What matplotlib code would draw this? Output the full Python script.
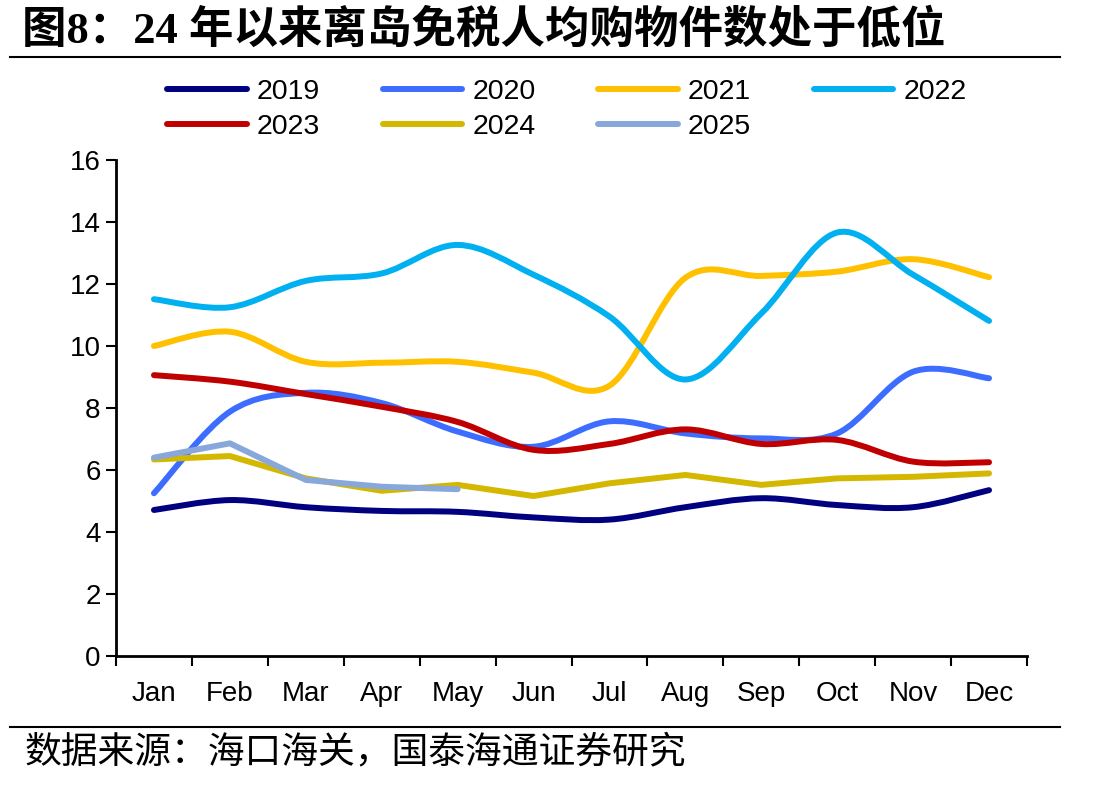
import numpy as np
import matplotlib
matplotlib.use("Agg")
import matplotlib.pyplot as plt
from matplotlib.path import Path
from matplotlib.patches import PathPatch
from matplotlib.lines import Line2D

months = ["Jan", "Feb", "Mar", "Apr", "May", "Jun", "Jul", "Aug", "Sep", "Oct", "Nov", "Dec"]
y2019 = [4.71, 5.03, 4.80, 4.68, 4.65, 4.47, 4.40, 4.80, 5.09, 4.87, 4.80, 5.35]
y2020 = [5.25, 7.88, 8.49, 8.16, 7.24, 6.75, 7.57, 7.18, 7.02, 7.18, 9.17, 8.96]
y2021 = [10.00, 10.46, 9.49, 9.46, 9.49, 9.14, 8.72, 12.20, 12.26, 12.40, 12.80, 12.22]
y2022 = [11.51, 11.25, 12.10, 12.34, 13.26, 12.30, 10.95, 8.92, 11.05, 13.66, 12.30, 10.81]
y2023 = [9.06, 8.85, 8.45, 8.04, 7.55, 6.65, 6.84, 7.31, 6.84, 6.97, 6.27, 6.25]
y2024 = [6.34, 6.45, 5.73, 5.33, 5.52, 5.16, 5.57, 5.84, 5.52, 5.73, 5.78, 5.89]
y2025 = [6.40, 6.86, 5.68, 5.46, 5.38]
years = ["2019", "2020", "2021", "2022", "2023", "2024", "2025"]

colors = {"2019": "#000080", "2020": "#3D6DFF", "2021": "#FFC000", "2022": "#00B0F0",
          "2023": "#C00000", "2024": "#D4B800", "2025": "#88A8DC"}
series = {"2019": y2019, "2020": y2020, "2021": y2021, "2022": y2022,
          "2023": y2023, "2024": y2024, "2025": y2025}
smooth = {"2019": True, "2020": True, "2021": True, "2022": True,
          "2023": True, "2024": False, "2025": False}

plt.rcParams['font.family'] = ['Liberation Sans', 'Noto Sans CJK SC']

fig = plt.figure(figsize=(11.07, 7.87), dpi=100)
ax = fig.add_axes([116/1107, 1-656/787, (1027-116)/1107, (656-160)/787])

LW = 4.3


def smooth_path(xs, ys):
    n = len(xs)
    verts = [(xs[0], ys[0])]
    codes = [Path.MOVETO]
    for i in range(n - 1):
        p0 = (xs[max(i-1, 0)], ys[max(i-1, 0)])
        p1 = (xs[i], ys[i])
        p2 = (xs[i+1], ys[i+1])
        p3 = (xs[min(i+2, n-1)], ys[min(i+2, n-1)])
        c1 = (p1[0] + (p2[0]-p0[0])/6, p1[1] + (p2[1]-p0[1])/6)
        c2 = (p2[0] - (p3[0]-p1[0])/6, p2[1] - (p3[1]-p1[1])/6)
        verts += [c1, c2, p2]
        codes += [Path.CURVE4]*3
    return Path(verts, codes)


handles = {}
for yr in years:
    vals = series[yr]
    xs = np.arange(len(vals))
    if smooth[yr]:
        patch = PathPatch(smooth_path(list(xs), list(vals)), facecolor='none',
                          edgecolor=colors[yr], lw=LW, capstyle='round', joinstyle='round')
        ax.add_patch(patch)
    else:
        ax.plot(xs, vals, color=colors[yr], lw=LW, solid_capstyle='round', solid_joinstyle='round')
    handles[yr] = Line2D([], [], color=colors[yr], lw=LW, solid_capstyle='round')

ax.set_xlim(-0.5, 11.5)
ax.set_ylim(0, 16)
ax.set_yticks(range(0, 17, 2))
ax.tick_params(axis='y', labelsize=20, length=7, width=1.5, direction='out', pad=4)
ax.set_xticks(np.arange(-0.5, 12, 1))
ax.set_xticklabels([])
ax.tick_params(axis='x', which='major', length=7, width=1.5, direction='out')
ax.set_xticks(np.arange(12), minor=True)
ax.set_xticklabels(months, minor=True)
ax.tick_params(axis='x', which='minor', length=0, labelsize=20, pad=18)
for s in ['top', 'right']:
    ax.spines[s].set_visible(False)
for s in ['left', 'bottom']:
    ax.spines[s].set_linewidth(2)

order = ["2019", "2023", "2020", "2024", "2021", "2025", "2022"]
fig.legend([handles[k] for k in order], order, loc='center', bbox_to_anchor=(0.512, 1-109.5/787),
           ncol=4, frameon=False, fontsize=20.5, handlelength=2.8, handletextpad=0.35,
           columnspacing=2.2, labelspacing=0.33, borderpad=0)

fig.text(22/1107, 1-30/787, "图8：24 年以来离岛免税人均购物件数处于低位",
         fontsize=32, fontweight='bold', va='center', ha='left',
         family=['Liberation Serif', 'Noto Sans CJK SC'])
fig.add_artist(Line2D([10/1107, 1060/1107], [1-57/787, 1-57/787], color='black', lw=1.5))
fig.add_artist(Line2D([10/1107, 1060/1107], [1-727/787, 1-727/787], color='black', lw=1.5))
fig.text(25/1107, 1-752/787, "数据来源：海口海关，国泰海通证券研究",
         fontsize=26.5, va='center', ha='left', family=['Noto Sans CJK SC'])

fig.savefig("out.png", dpi=100)
